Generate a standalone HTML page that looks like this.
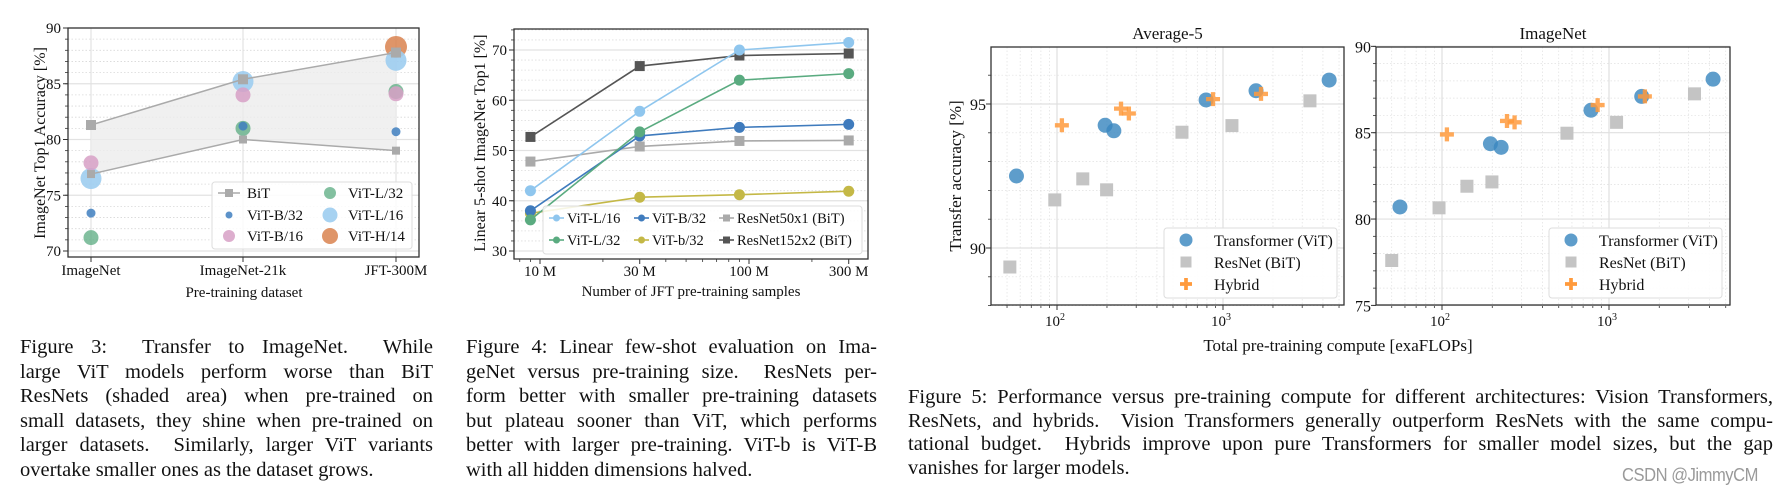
<!DOCTYPE html>
<html><head><meta charset="utf-8">
<style>
html,body{margin:0;padding:0;background:#fff;}
#wrap{position:relative;width:1788px;height:497px;overflow:hidden;background:#fff;}
svg{position:absolute;left:0;top:0;}
.cap{position:absolute;font-family:"Liberation Serif",serif;font-size:20.5px;line-height:24.5px;color:#111;}
.cap span{display:block;text-align:justify;text-align-last:justify;white-space:nowrap;}
.cap span.last{text-align-last:left;}
#wm{position:absolute;left:1622px;top:465px;font-family:"Liberation Sans",sans-serif;font-size:18px;color:#9a9a9a;letter-spacing:-0.5px;transform:scaleX(0.92);transform-origin:left top;}
</style></head>
<body>
<div id="wrap">
<svg id="svg" width="1788" height="497" xmlns="http://www.w3.org/2000/svg"></svg>

<div class="cap" style="left:20px;top:335px;width:413px;">
<span>Figure 3:&nbsp; Transfer to ImageNet.&nbsp; While</span>
<span>large ViT models perform worse than BiT</span>
<span>ResNets (shaded area) when pre-trained on</span>
<span>small datasets, they shine when pre-trained on</span>
<span>larger datasets.&nbsp; Similarly, larger ViT variants</span>
<span class="last">overtake smaller ones as the dataset grows.</span>
</div>
<div class="cap" style="left:466px;top:335px;width:411px;">
<span>Figure 4: Linear few-shot evaluation on Ima-</span>
<span>geNet versus pre-training size.&nbsp; ResNets per-</span>
<span>form better with smaller pre-training datasets</span>
<span>but plateau sooner than ViT, which performs</span>
<span>better with larger pre-training. ViT-b is ViT-B</span>
<span class="last">with all hidden dimensions halved.</span>
</div>
<div class="cap" style="left:908px;top:386px;width:865px;line-height:23.7px;">
<span>Figure 5: Performance versus pre-training compute for different architectures: Vision Transformers,</span>
<span>ResNets, and hybrids.&nbsp; Vision Transformers generally outperform ResNets with the same compu-</span>
<span>tational budget.&nbsp; Hybrids improve upon pure Transformers for smaller model sizes, but the gap</span>
<span class="last">vanishes for larger models.</span>
</div>
<div id="wm">CSDN @JimmyCM</div>
</div>

<script>
// ---------- Figure 3 data ----------
const c1Cats = ['ImageNet', 'ImageNet-21k', 'JFT-300M'];
const c1YTicks = [70, 75, 80, 85, 90];
const bitUpper = [81.3, 85.4, 87.8];
const bitLower = [76.9, 80.0, 79.0];
const vitB32 = [73.4, 81.2, 80.7];
const vitB16 = [77.9, 84.0, 84.1];
const vitL32 = [71.2, 81.0, 84.3];
const vitL16 = [76.5, 85.2, 87.1];
const vitH14 = [null, null, 88.3];

// ---------- Figure 4 data ----------
const c2Samples = [9, 30, 90, 300];
const c2XTicks = [10, 30, 100, 300];
const c2XTickLabels = ['10 M', '30 M', '100 M', '300 M'];
const c2YTicks = [30, 40, 50, 60, 70];
const fsVitL16 = [42.0, 57.8, 70.0, 71.5];
const fsRes152 = [52.7, 66.8, 68.9, 69.3];
const fsVitL32 = [36.2, 53.7, 64.0, 65.3];
const fsVitB32 = [38.0, 52.9, 54.6, 55.2];
const fsRes50 = [47.8, 50.8, 51.9, 52.0];
const fsVitb32 = [37.5, 40.7, 41.2, 41.9];

// ---------- Figure 5 data ----------
const avgVitX = [57, 195, 220, 791, 1581, 4360];
const avgVitY = [92.5, 94.26, 94.07, 95.14, 95.46, 95.83];
const avgResX = [52, 97, 143, 199, 566, 1132, 3340];
const avgResY = [89.34, 91.67, 92.4, 92.02, 94.02, 94.25, 95.11];
const avgHybX = [107, 243, 271, 871, 1694];
const avgHybY = [94.26, 94.84, 94.67, 95.17, 95.35];
const inVitX = [56, 195, 226, 780, 1570, 4200];
const inVitY = [80.7, 84.36, 84.15, 86.3, 87.1, 88.1];
const inResX = [50, 96, 141, 199, 560, 1110, 3250];
const inResY = [77.6, 80.65, 81.9, 82.15, 84.97, 85.6, 87.25];
const inHybX = [107, 245, 272, 855, 1640];
const inHybY = [84.9, 85.68, 85.6, 86.6, 87.1];
const avgYTicks = [90, 95];
const inYTicks = [75, 80, 85, 90];

const NS = 'http://www.w3.org/2000/svg';
const svg = document.getElementById('svg');
const SERIF = '"Liberation Serif", serif';

function mk(tag, attrs, name, parent) {
  const e = document.createElementNS(NS, tag);
  for (const k in attrs) e.setAttribute(k, attrs[k]);
  
  
  (parent || svg).appendChild(e);
  return e;
}
function txt(x, y, s, size, anchor, name, parent, extra) {
  const a = {x: x, y: y, 'font-family': SERIF, 'font-size': size, 'text-anchor': anchor || 'middle', fill: '#111'};
  if (extra) for (const k in extra) a[k] = extra[k];
  const t = mk('text', a, name, parent);
  t.textContent = s;
  return t;
}
function line(x1, y1, x2, y2, stroke, w, name, parent, dash) {
  const a = {x1: x1, y1: y1, x2: x2, y2: y2, stroke: stroke, 'stroke-width': w};
  if (dash) a['stroke-dasharray'] = dash;
  return mk('line', a, name, parent);
}
function circle(cx, cy, r, fill, name, parent, op) {
  return mk('circle', {cx: cx, cy: cy, r: r, fill: fill, 'fill-opacity': op || 1}, name, parent);
}
function square(cx, cy, s, fill, name, parent) {
  return mk('rect', {x: cx - s / 2, y: cy - s / 2, width: s, height: s, fill: fill}, name, parent);
}
function plus(cx, cy, s, fill, name, parent) {
  const a = s / 2, b = s / 6.5;
  const d = 'M' + (cx - b) + ' ' + (cy - a) + 'H' + (cx + b) + 'V' + (cy - b) + 'H' + (cx + a) + 'V' + (cy + b) + 'H' + (cx + b) + 'V' + (cy + a) + 'H' + (cx - b) + 'V' + (cy + b) + 'H' + (cx - a) + 'V' + (cy - b) + 'H' + (cx - b) + 'Z';
  return mk('path', {d: d, fill: fill}, name, parent);
}

// =============== Figure 3 ===============
(function () {
  const g = mk('g', {}, 'figure-3-chart');
  const L = 68, R = 419, T = 28, B = 257;
  const xs = [91, 243, 396];
  const y = v => 251 - (v - 70) * 11.15;
  const x = i => xs[i];
  for (let v = 70; v <= 90; v++) {
    if (v % 5 !== 0) line(L, y(v), R, y(v), '#d8d8d8', 0.8, 'minor-gridline', g, '1.5,2');
    line(L, y(v), L - 3, y(v), '#333', 0.8, 'y-minor-tick', g);
  }
  c1YTicks.forEach(v => {
    line(L, y(v), R, y(v), '#e2e2e2', 1.2, 'major-gridline', g);
    line(L, y(v), L - 5, y(v), '#333', 1, 'y-tick', g);
    txt(L - 7, y(v) + 5, String(v), 15, 'end', 'y-tick-label', g);
  });
  c1Cats.forEach((c, i) => {
    line(x(i), T, x(i), B, '#e2e2e2', 1.2, 'x-gridline', g);
    line(x(i), B, x(i), B + 5, '#333', 1, 'x-tick', g);
    txt(x(i), 275, c, 15, 'middle', 'x-tick-label', g);
  });
  let d = '';
  bitUpper.forEach((v, i) => { d += (i ? 'L' : 'M') + x(i) + ' ' + y(v); });
  for (let i = bitLower.length - 1; i >= 0; i--) d += 'L' + x(i) + ' ' + y(bitLower[i]);
  mk('path', {d: d + 'Z', fill: '#ececec', 'fill-opacity': 0.8}, 'bit-shaded-area', g);
  const drawSeries = (arr, r, col, name, op) => arr.forEach((v, i) => { if (v !== null) circle(x(i), y(v), r, col, name, g, op); });
  drawSeries(vitH14, 11, '#d9824f', 'vit-h14-point', 0.85);
  drawSeries(vitL16, 10.5, '#9dcdf0', 'vit-l16-point', 0.9);
  drawSeries(vitL32, 7.5, '#5aab80', 'vit-l32-point', 0.75);
  drawSeries(vitB16, 7.5, '#d7a0c6', 'vit-b16-point', 0.85);
  drawSeries(vitB32, 4.5, '#3f7fc0', 'vit-b32-point', 0.85);
  [bitUpper, bitLower].forEach((arr, k) => {
    let p = '';
    arr.forEach((v, i) => { p += (i ? 'L' : 'M') + x(i) + ' ' + y(v); });
    mk('path', {d: p, fill: 'none', stroke: '#aaa', 'stroke-width': 1.5}, k ? 'bit-lower-line' : 'bit-upper-line', g);
    arr.forEach((v, i) => square(x(i), y(v), k ? 8 : 10, '#aaa', 'bit-point', g));
  });
  mk('rect', {x: L, y: T, width: R - L, height: B - T, fill: 'none', stroke: '#333', 'stroke-width': 1.3}, 'plot-frame', g);
  const lg = mk('g', {}, 'figure-3-legend', g);
  mk('rect', {x: 212, y: 182, width: 200, height: 67, rx: 3, fill: '#fff', 'fill-opacity': 0.85, stroke: '#ddd'}, 'legend-box', lg);
  const rows = [193, 215, 236];
  line(218, rows[0], 240, rows[0], '#aaa', 1.5, 'legend-bit-line', lg);
  square(229, rows[0], 8, '#aaa', 'legend-bit-marker', lg);
  txt(247, rows[0] + 5, 'BiT', 15, 'start', 'legend-entry', lg);
  circle(229, rows[1], 3.5, '#3f7fc0', 'legend-vit-b32-marker', lg, 0.85);
  txt(247, rows[1] + 5, 'ViT-B/32', 15, 'start', 'legend-entry', lg);
  circle(229, rows[2], 6, '#d7a0c6', 'legend-vit-b16-marker', lg, 0.85);
  txt(247, rows[2] + 5, 'ViT-B/16', 15, 'start', 'legend-entry', lg);
  circle(330, rows[0], 6, '#5aab80', 'legend-vit-l32-marker', lg, 0.75);
  txt(348, rows[0] + 5, 'ViT-L/32', 15, 'start', 'legend-entry', lg);
  circle(330, rows[1], 7.5, '#9dcdf0', 'legend-vit-l16-marker', lg, 0.9);
  txt(348, rows[1] + 5, 'ViT-L/16', 15, 'start', 'legend-entry', lg);
  circle(330, rows[2], 8, '#d9824f', 'legend-vit-h14-marker', lg, 0.85);
  txt(348, rows[2] + 5, 'ViT-H/14', 15, 'start', 'legend-entry', lg);
  txt(244, 297, 'Pre-training dataset', 15, 'middle', 'x-axis-title', g);
  txt(0, 0, 'ImageNet Top1 Accuracy [%]', 16, 'middle', 'y-axis-title', g, {transform: 'translate(45,143) rotate(-90)'});
})();

// =============== Figure 4 ===============
(function () {
  const g = mk('g', {}, 'figure-4-chart');
  const L = 514, R = 868, T = 29, B = 259;
  const x = v => 540 + Math.log10(v / 10) * 209;
  const y = v => 50 + (70 - v) * 5.025;
  for (let v = 30; v <= 74; v += 2) {
    if (v % 10 !== 0) line(L, y(v), R, y(v), '#dcdcdc', 0.8, 'minor-gridline', g, '1.5,2');
    line(L, y(v), L - 3, y(v), '#333', 0.8, 'y-minor-tick', g);
  }
  c2YTicks.forEach(v => {
    line(L, y(v), R, y(v), '#e2e2e2', 1.2, 'major-gridline', g);
    line(L, y(v), L - 5, y(v), '#333', 1, 'y-tick', g);
    txt(L - 7, y(v) + 5, String(v), 15, 'end', 'y-tick-label', g);
  });
  [8, 9, 20, 40, 50, 60, 70, 80, 90, 200].forEach(v => line(x(v), B, x(v), B + 3, '#333', 0.8, 'x-minor-tick', g));
  c2XTicks.forEach((v, i) => {
    line(x(v), B, x(v), B + 5, '#333', 1, 'x-tick', g);
    txt(x(v), 276, c2XTickLabels[i], 15, 'middle', 'x-tick-label', g);
  });
  const series = [
    [fsRes50, '#aaaaaa', 'sq', 'resnet50x1'],
    [fsRes152, '#555555', 'sq', 'resnet152x2'],
    [fsVitb32, '#c4b846', 'c', 'vit-b-small-32'],
    [fsVitB32, '#3f7bbd', 'c', 'vit-b32'],
    [fsVitL32, '#5aab80', 'c', 'vit-l32'],
    [fsVitL16, '#8fc6ee', 'c', 'vit-l16']
  ];
  series.forEach(s => {
    let p = '';
    s[0].forEach((v, i) => { p += (i ? 'L' : 'M') + x(c2Samples[i]) + ' ' + y(v); });
    mk('path', {d: p, fill: 'none', stroke: s[1], 'stroke-width': 1.6}, s[3] + '-line', g);
    s[0].forEach((v, i) => {
      if (s[2] === 'sq') square(x(c2Samples[i]), y(v), 10, s[1], s[3] + '-point', g);
      else circle(x(c2Samples[i]), y(v), 5.5, s[1], s[3] + '-point', g);
    });
  });
  mk('rect', {x: L, y: T, width: R - L, height: B - T, fill: 'none', stroke: '#333', 'stroke-width': 1.3}, 'plot-frame', g);
  const lg = mk('g', {}, 'figure-4-legend', g);
  mk('rect', {x: 543, y: 206, width: 319, height: 48, rx: 3, fill: '#fff', 'fill-opacity': 0.85, stroke: '#ddd'}, 'legend-box', lg);
  const ent = [
    [549, 218, '#8fc6ee', 'c', 'ViT-L/16'], [549, 240, '#5aab80', 'c', 'ViT-L/32'],
    [634, 218, '#3f7bbd', 'c', 'ViT-B/32'], [634, 240, '#c4b846', 'c', 'ViT-b/32'],
    [719, 218, '#aaaaaa', 'sq', 'ResNet50x1 (BiT)'], [719, 240, '#555555', 'sq', 'ResNet152x2 (BiT)']
  ];
  ent.forEach(e => {
    line(e[0], e[1], e[0] + 15, e[1], e[2], 1.6, 'legend-line', lg);
    if (e[3] === 'sq') square(e[0] + 7.5, e[1], 7, e[2], 'legend-marker', lg);
    else circle(e[0] + 7.5, e[1], 3.5, e[2], 'legend-marker', lg);
    txt(e[0] + 18, e[1] + 5, e[4], 14.5, 'start', 'legend-entry', lg);
  });
  txt(691, 296, 'Number of JFT pre-training samples', 15, 'middle', 'x-axis-title', g);
  txt(0, 0, 'Linear 5-shot ImageNet Top1 [%]', 16, 'middle', 'y-axis-title', g, {transform: 'translate(485,143) rotate(-90)'});
})();

// =============== Figure 5 ===============
function panel(cfg) {
  const g = mk('g', {}, cfg.name);
  const L = cfg.L, R = cfg.R, T = 47, B = 305;
  const x = v => cfg.x100 + Math.log10(v / 100) * cfg.dec;
  const y = v => cfg.yRef + (cfg.vRef - v) * cfg.ppu;
  const minorX = [50, 60, 70, 80, 90, 200, 300, 400, 500, 600, 700, 800, 900, 2000, 3000, 4000, 5000];
  minorX.forEach(v => {
    if (x(v) > L && x(v) < R) {
      line(x(v), T, x(v), B, '#e0e0e0', 0.7, 'minor-x-gridline', g, '1.5,2');
      line(x(v), B, x(v), B + 3, '#333', 0.8, 'x-minor-tick', g);
    }
  });
  for (let v = Math.ceil(cfg.yMin); v <= cfg.yMax; v++) {
    line(L, y(v), R, y(v), '#e0e0e0', 0.7, 'minor-y-gridline', g, '1.5,2');
    line(L, y(v), L - 3, y(v), '#333', 0.8, 'y-minor-tick', g);
  }
  cfg.yTicks.forEach(v => {
    line(L, y(v), R, y(v), '#e0e0e0', 1.2, 'major-gridline', g);
    line(L, y(v), L - 5, y(v), '#333', 1, 'y-tick', g);
    txt(L - 5, y(v) + 6, String(v), 16, 'end', 'y-tick-label', g);
  });
  [[100, '2'], [1000, '3']].forEach(t => {
    line(x(t[0]), T, x(t[0]), B, '#e0e0e0', 1.2, 'major-x-gridline', g);
    line(x(t[0]), B, x(t[0]), B + 5, '#333', 1, 'x-tick', g);
    const tl = txt(x(t[0]) - 2, 326, '10', 15, 'middle', 'x-tick-label', g);
    const sp = document.createElementNS(NS, 'tspan');
    sp.setAttribute('dy', '-6');
    sp.setAttribute('font-size', '10');
    sp.textContent = t[1];
    tl.appendChild(sp);
  });
  cfg.resX.forEach((v, i) => square(x(v), y(cfg.resY[i]), 13, '#c4c4c4', 'resnet-point', g));
  cfg.vitX.forEach((v, i) => circle(x(v), y(cfg.vitY[i]), 7.5, '#3b87c0', 'transformer-point', g, 0.82));
  cfg.hybX.forEach((v, i) => plus(x(v), y(cfg.hybY[i]), 14, '#ff9a3c', 'hybrid-point', g).setAttribute('fill-opacity', '0.85'));
  mk('rect', {x: L, y: T, width: R - L, height: B - T, fill: 'none', stroke: '#333', 'stroke-width': 1.3}, 'plot-frame', g);
  txt((L + R) / 2, 39, cfg.title, 17, 'middle', 'panel-title', g);
  const lg = mk('g', {}, 'legend', g);
  const lx = cfg.legX;
  mk('rect', {x: lx, y: 228, width: 173, height: 70, rx: 3, fill: '#fff', 'fill-opacity': 0.9, stroke: '#ddd'}, 'legend-box', lg);
  circle(lx + 22, 240, 6.5, '#3b87c0', 'legend-transformer-marker', lg, 0.82);
  txt(lx + 50, 246, 'Transformer (ViT)', 16, 'start', 'legend-entry', lg);
  square(lx + 22, 262, 11, '#c4c4c4', 'legend-resnet-marker', lg);
  txt(lx + 50, 268, 'ResNet (BiT)', 16, 'start', 'legend-entry', lg);
  plus(lx + 22, 284, 12, '#ff9a3c', 'legend-hybrid-marker', lg);
  txt(lx + 50, 290, 'Hybrid', 16, 'start', 'legend-entry', lg);
}
panel({name: 'average-5-panel', title: 'Average-5', L: 991, R: 1344, x100: 1057, dec: 166,
  yRef: 104, vRef: 95, ppu: 28.8, yMin: 88, yMax: 96.9, yTicks: avgYTicks,
  vitX: avgVitX, vitY: avgVitY, resX: avgResX, resY: avgResY, hybX: avgHybX, hybY: avgHybY, legX: 1164});
panel({name: 'imagenet-panel', title: 'ImageNet', L: 1376, R: 1730, x100: 1442, dec: 167,
  yRef: 132.7, vRef: 85, ppu: 17.27, yMin: 75, yMax: 90, yTicks: inYTicks,
  vitX: inVitX, vitY: inVitY, resX: inResX, resY: inResY, hybX: inHybX, hybY: inHybY, legX: 1549});
txt(1338, 351, 'Total pre-training compute [exaFLOPs]', 17, 'middle', 'x-axis-title');
txt(0, 0, 'Transfer accuracy [%]', 17, 'middle', 'y-axis-title', svg, {transform: 'translate(961,176) rotate(-90)'});
</script>
</body></html>
